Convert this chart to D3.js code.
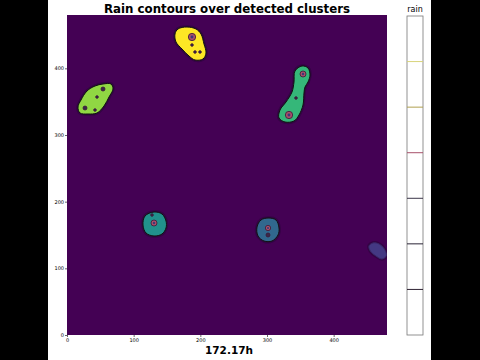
<!DOCTYPE html>
<html>
<head>
<meta charset="utf-8">
<script src="https://cdn.jsdelivr.net/npm/d3@7"></script>
<style>
  body { margin: 0; background: #000; }
  svg { display: block; }
  text { font-family: "DejaVu Sans", sans-serif; }
</style>
</head>
<body>
<div id="chart"></div>
<script>
// cluster ids (coloured by viridis over 0..6)
var clusterIds = [6, 5, 4, 3, 2, 1];

// cluster outlines in data coords
var clusterOutlines = [
  [[166.5,459],[180,462],[193.5,459],[201,451.5],[205.5,436.5],[208.5,423],[204,414],[192,412.5],[183,418.5],[172.5,429],[163.5,439.5],[162,451.5]],
  [[16.5,342],[21,352.5],[30,366],[42,373.5],[54,376.5],[66,376.5],[69,369],[63,357],[55.5,343.5],[45,333],[31.5,331.5],[19.5,333]],
  [[352.5,403.5],[361.5,400.5],[364.5,390],[361.5,379.5],[357,372],[355.5,363],[354,345],[348,330],[340.5,321],[327,319.5],[318,325.5],[319.5,337.5],[328.5,349.5],[337.5,364.5],[340.5,379.5],[342,396]],
  [[130.5,184.5],[142.5,181.5],[148.5,171],[148.5,160.5],[142.5,151.5],[130.5,148.5],[118.5,153],[114,165],[117,178.5]],
  [[301.5,175.5],[313.5,172.5],[318,160.5],[316.5,150],[307.5,141],[295.5,141],[286.5,148.5],[285,162],[291,172.5]],
  [[459,138],[468,136.5],[476,129],[479,119],[472.5,114],[463.5,118.5],[455,126],[453,133.5]]
];

// rain contour cells inside clusters: x, y, radius (data units)
var rainX = [187.5, 187.5, 192, 199.5, 54, 45, 27, 42, 354, 333, 343.5, 130.5, 127.5, 301.5, 301.5];
var rainY = [447, 435, 424.5, 424.5, 369, 357, 340.5, 337.5, 391.5, 330, 355.5, 168, 180, 160.5, 150];
var rainR = [5.5, 2, 2, 2, 3, 2, 3, 2, 4.5, 5.5, 2, 4.5, 2, 4, 3];

// colorbar contour levels
var levels = [1, 2, 3, 4, 5, 6];
var levelColors = ["#2e2232", "#2a2436", "#3a3448", "#a8506a", "#b0a050", "#d8d47a"];

var ticks = [0, 100, 200, 300, 400];

var svgWidth = 480, svgHeight = 360;
var plot = { left: 67, right: 387, top: 15, bottom: 335 };

var svg = d3.select("#chart").append("svg")
  .attr("width", svgWidth)
  .attr("height", svgHeight);

// white frame between the black side bars
svg.append("rect")
  .attr("x", 48).attr("y", 0)
  .attr("width", 383).attr("height", svgHeight)
  .attr("fill", "#fff");

var x = d3.scaleLinear().domain([0, 480]).range([plot.left, plot.right]);
var y = d3.scaleLinear().domain([0, 480]).range([plot.bottom, plot.top]);
var color = d3.scaleSequential(d3.interpolateViridis).domain([0, 6]);

svg.append("clipPath").attr("id", "clip")
  .append("rect")
  .attr("x", plot.left).attr("y", plot.top)
  .attr("width", plot.right - plot.left).attr("height", plot.bottom - plot.top);

var g = svg.append("g").attr("clip-path", "url(#clip)");

g.append("rect")
  .attr("x", plot.left).attr("y", plot.top)
  .attr("width", plot.right - plot.left).attr("height", plot.bottom - plot.top)
  .attr("fill", color(0));

var line = d3.line()
  .x(d => x(d[0]))
  .y(d => y(d[1]))
  .curve(d3.curveCatmullRomClosed.alpha(0.5));

// soft dark halo round each cluster
g.selectAll(".halo")
  .data(clusterOutlines)
  .enter().append("path")
  .attr("class", "halo")
  .attr("d", line)
  .attr("fill", "none")
  .attr("stroke", "#1e0830")
  .attr("stroke-opacity", 0.45)
  .attr("stroke-width", 3.5);

g.selectAll(".cluster")
  .data(clusterOutlines)
  .enter().append("path")
  .attr("class", "cluster")
  .attr("d", line)
  .attr("fill", (d, i) => color(clusterIds[i]))
  .attr("stroke", (d, i) => clusterIds[i] == 1 ? "#3a2a6a" : "#111")
  .attr("stroke-width", 1);

// rain contours
var rain = rainX.map((v, i) => ({ x: rainX[i], y: rainY[i], r: rainR[i] }));
g.selectAll(".rain")
  .data(rain)
  .enter().append("ellipse")
  .attr("class", "rain")
  .attr("cx", d => x(d.x))
  .attr("cy", d => y(d.y))
  .attr("rx", d => x(d.r) - x(0))
  .attr("ry", d => y(0) - y(d.r))
  .attr("fill", d => d.r > 3 ? "#a8506a" : "#3a2848")
  .attr("stroke", "#3b1838")
  .attr("stroke-width", 0.8);

g.selectAll(".core")
  .data(rain.filter(d => d.r > 3))
  .enter().append("ellipse")
  .attr("class", "core")
  .attr("cx", d => x(d.x))
  .attr("cy", d => y(d.y))
  .attr("rx", d => (x(d.r) - x(0)) * 0.4)
  .attr("ry", d => (y(0) - y(d.r)) * 0.4)
  .attr("fill", "#3a3a78");

// axes
var xAxis = svg.append("g")
  .attr("transform", `translate(0, ${plot.bottom})`)
  .call(d3.axisBottom(x).tickValues(ticks).tickSize(2).tickPadding(1));
var yAxis = svg.append("g")
  .attr("transform", `translate(${plot.left}, 0)`)
  .call(d3.axisLeft(y).tickValues(ticks).tickSize(2).tickPadding(1));

[xAxis, yAxis].forEach(function(a) {
  a.select(".domain").remove();
  a.selectAll("text").attr("font-size", 5).attr("fill", "#000")
    .attr("font-family", "DejaVu Sans, sans-serif");
  a.selectAll("line").attr("stroke", "#000").attr("stroke-width", 0.6);
});

svg.append("text")
  .attr("x", (plot.left + plot.right) / 2)
  .attr("y", 13)
  .attr("text-anchor", "middle")
  .attr("font-size", 11.8)
  .attr("font-weight", "bold")
  .text("Rain contours over detected clusters");

svg.append("text")
  .attr("x", 229)
  .attr("y", 354)
  .attr("text-anchor", "middle")
  .attr("font-size", 10.5)
  .attr("font-weight", "bold")
  .text("172.17h");

// colorbar
var cb = { x: 407, w: 16 };
var cbY = d3.scaleLinear().domain([0, 7]).range([335, 16]);

svg.append("rect")
  .attr("x", cb.x).attr("y", cbY(7))
  .attr("width", cb.w).attr("height", cbY(0) - cbY(7))
  .attr("fill", "#fff")
  .attr("stroke", "#777")
  .attr("stroke-width", 0.8);

svg.selectAll(".level")
  .data(levels)
  .enter().append("line")
  .attr("class", "level")
  .attr("x1", cb.x).attr("x2", cb.x + cb.w)
  .attr("y1", d => cbY(d)).attr("y2", d => cbY(d))
  .attr("stroke", (d, i) => levelColors[i])
  .attr("stroke-width", 1);

svg.append("text")
  .attr("x", cb.x + cb.w / 2)
  .attr("y", 12)
  .attr("text-anchor", "middle")
  .attr("font-size", 8)
  .text("rain");
</script>
</body>
</html>
